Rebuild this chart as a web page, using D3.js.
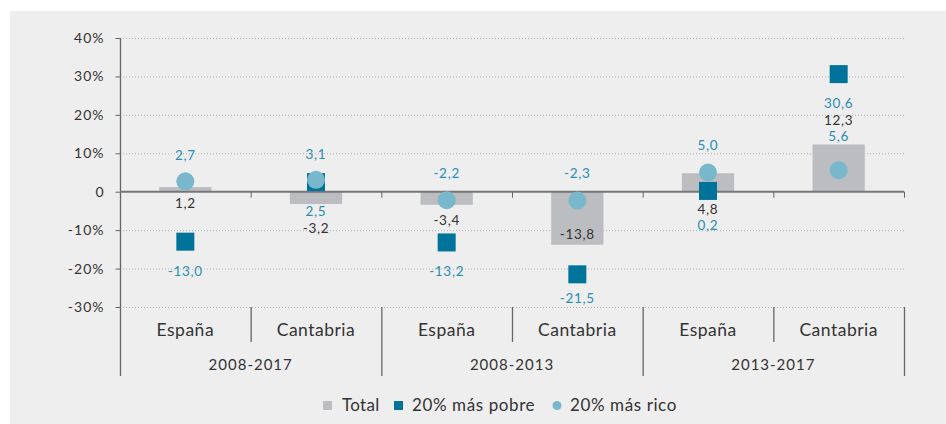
<!DOCTYPE html>
<html>
<head>
<meta charset="utf-8">
<script src="https://cdn.jsdelivr.net/npm/d3@7"></script>
<style>
    body { margin: 0; background: #ffffff; }
    svg { display: block; font-family: Lato, "Open Sans", sans-serif; }
</style>
</head>
<body>
<div id="chart"></div>
<script>
// data
var periods = ['2008-2017', '2008-2013', '2013-2017'];
var regions = ['España', 'Cantabria'];
var total = [1.2, -3.2, -3.4, -13.8, 4.8, 12.3];
var pobre = [-13.0, 2.5, -13.2, -21.5, 0.2, 30.6];
var rico = [2.7, 3.1, -2.2, -2.3, 5.0, 5.6];
var yTicks = [-30, -20, -10, 0, 10, 20, 30, 40];

// label offsets (px from the mark value)
var totalDy = [16, 24, 15, -10, 36, -24];
var pobreDy = [30, 29, 29, 24, 34, 29];
var ricoDy = [-26, -26, -27, -27, -27, -34];

var W = 946, H = 424;
var cats = [];
periods.forEach(function (p) {
    regions.forEach(function (r) { cats.push(p + '|' + r); });
});

var svg = d3.select('#chart').append('svg').attr('width', W).attr('height', H);
svg.append('rect').attr('x', 10).attr('y', 11).attr('width', W - 10).attr('height', H - 11).attr('fill', '#eeeeee');

var x = d3.scaleBand().domain(cats).range([120, 904]).padding(0);
var y = d3.scaleLinear().domain([-30, 40]).range([307, 38]);
var bw = x.bandwidth();
var fmt = function (v) { return d3.format('.1f')(v).replace('.', ',').replace('\u2212', '-'); };

// grid
svg.append('g').selectAll('line')
    .data(yTicks.filter(function (d) { return d != 0; }))
    .enter().append('line')
    .attr('x1', 120).attr('x2', 904)
    .attr('y1', function (d) { return y(d) + 0.5; })
    .attr('y2', function (d) { return y(d) + 0.5; })
    .attr('stroke', '#b0b0b0').attr('stroke-width', 1).attr('stroke-dasharray', '1,2');

// y axis
var yAxis = d3.axisLeft(y).tickValues(yTicks).tickSize(5).tickSizeOuter(0)
    .tickFormat(function (d) { return d == 0 ? '0' : d + '%'; });
var ga = svg.append('g').attr('transform', 'translate(120.5,0)').call(yAxis);
ga.select('.domain').remove();
ga.selectAll('line').attr('stroke', '#666');
ga.selectAll('text').attr('font-size', 14).attr('letter-spacing', 1).attr('fill', '#333')
    .attr('font-family', 'Lato, sans-serif').attr('x', -16);
svg.append('line').attr('x1', 120.5).attr('x2', 120.5).attr('y1', 38).attr('y2', 376)
    .attr('stroke', '#666').attr('stroke-width', 1.3);

// bars
svg.append('g').selectAll('rect')
    .data(total).enter().append('rect')
    .attr('x', function (d, i) { return x(cats[i]) + bw * 0.3; })
    .attr('width', bw * 0.4)
    .attr('y', function (d) { return y(Math.max(0, d)); })
    .attr('height', function (d) { return Math.abs(y(d) - y(0)); })
    .attr('fill', '#bcbdc0');

// zero line and ticks
svg.append('line').attr('x1', 120).attr('x2', 904).attr('y1', y(0)).attr('y2', y(0))
    .attr('stroke', '#777').attr('stroke-width', 2);
svg.append('g').selectAll('line')
    .data(cats).enter().append('line')
    .attr('x1', function (d) { return x(d) + bw + 0.5; })
    .attr('x2', function (d) { return x(d) + bw + 0.5; })
    .attr('y1', y(0)).attr('y2', y(0) + 6)
    .attr('stroke', '#666');

// squares
var sq = 18;
svg.append('g').selectAll('rect')
    .data(pobre).enter().append('rect')
    .attr('x', function (d, i) { return x(cats[i]) + bw / 2 - sq / 2; })
    .attr('y', function (d) { return y(d) - sq / 2; })
    .attr('width', sq).attr('height', sq)
    .attr('fill', '#00739a');

// circles
svg.append('g').selectAll('circle')
    .data(rico).enter().append('circle')
    .attr('cx', function (d, i) { return x(cats[i]) + bw / 2; })
    .attr('cy', function (d) { return y(d); })
    .attr('r', 9)
    .attr('fill', '#79b8cc');

// value labels
function labels(data, dys, color) {
    svg.append('g').selectAll('text')
        .data(data).enter().append('text')
        .attr('x', function (d, i) { return x(cats[i]) + bw / 2; })
        .attr('y', function (d, i) { return y(d) + dys[i]; })
        .attr('dy', '0.35em')
        .attr('text-anchor', 'middle')
        .attr('font-size', 13.5)
        .attr('letter-spacing', 0.7)
        .attr('fill', color)
        .text(fmt);
}
labels(total, totalDy, '#333');
labels(pobre, pobreDy, '#2a8db5');
labels(rico, ricoDy, '#2a8db5');

// category labels and separators
svg.append('g').selectAll('text')
    .data(cats).enter().append('text')
    .attr('x', function (d) { return x(d) + bw / 2; })
    .attr('y', 330).attr('dy', '0.35em')
    .attr('text-anchor', 'middle').attr('font-size', 17.5).attr('letter-spacing', 0.5).attr('fill', '#333')
    .text(function (d) { return d.split('|')[1]; });
svg.append('g').selectAll('line')
    .data(cats).enter().append('line')
    .attr('x1', function (d) { return x(d) + bw + 0.5; })
    .attr('x2', function (d) { return x(d) + bw + 0.5; })
    .attr('y1', 307)
    .attr('y2', function (d, i) { return i % 2 == 1 ? 376 : 342; })
    .attr('stroke', '#666').attr('stroke-width', 1.3);
svg.append('g').selectAll('text')
    .data(periods).enter().append('text')
    .attr('x', function (d, i) { return x(cats[i * 2]) + bw; })
    .attr('y', 365).attr('dy', '0.35em')
    .attr('text-anchor', 'middle').attr('font-size', 15).attr('letter-spacing', 1).attr('fill', '#333')
    .text(function (d) { return d; });

// legend
var leg = svg.append('g').attr('font-size', 17).attr('fill', '#333');
leg.append('rect').attr('x', 323).attr('y', 401).attr('width', 9).attr('height', 9).attr('fill', '#bcbdc0');
leg.append('text').attr('x', 342).attr('y', 405.5).attr('dy', '0.35em').attr('letter-spacing', 0.3).text('Total');
leg.append('rect').attr('x', 394).attr('y', 401).attr('width', 9).attr('height', 9).attr('fill', '#00739a');
leg.append('text').attr('x', 412).attr('y', 405.5).attr('dy', '0.35em').attr('letter-spacing', 0.6).text('20% más pobre');
leg.append('circle').attr('cx', 557).attr('cy', 405.5).attr('r', 4.5).attr('fill', '#79b8cc');
leg.append('text').attr('x', 570).attr('y', 405.5).attr('dy', '0.35em').attr('letter-spacing', 0.6).text('20% más rico');
</script>
</body>
</html>
